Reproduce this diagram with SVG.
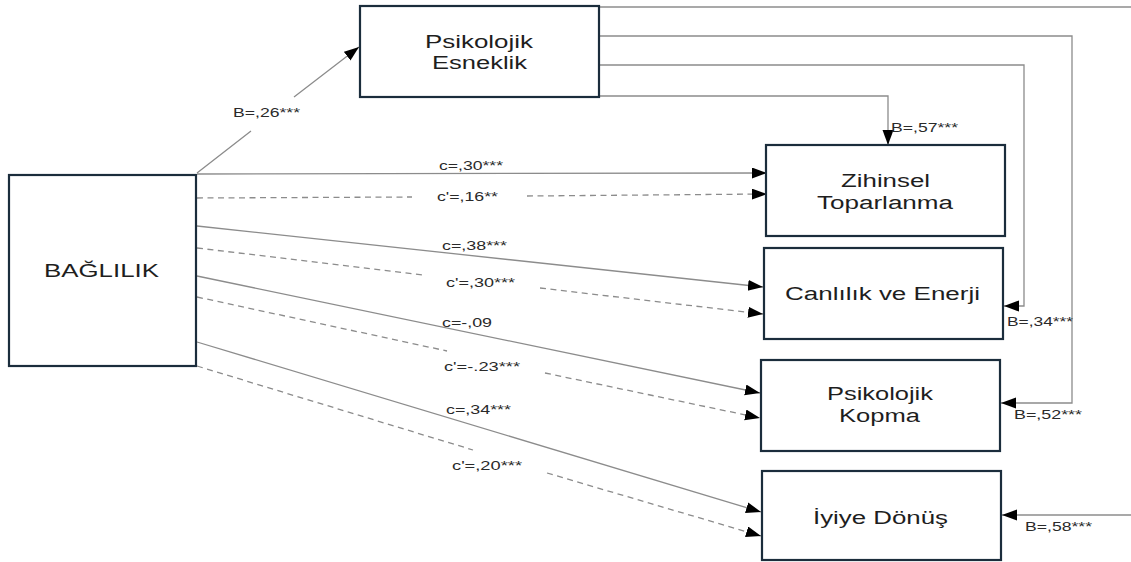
<svg xmlns="http://www.w3.org/2000/svg" width="1131" height="562" viewBox="0 0 1131 562">
<defs>
<marker id="arr" markerUnits="userSpaceOnUse" markerWidth="16" markerHeight="12" refX="15" refY="5.5" orient="auto">
<path d="M0,0 L15,5.5 L0,11 z" fill="#000"/>
</marker>
<style>
.box{fill:#fff;stroke:#1b2d3c;stroke-width:2.2}
.nl{font-family:"Liberation Sans",Arial,sans-serif;font-size:18px;fill:#1e1e1e}
.el{font-family:"Liberation Sans",Arial,sans-serif;font-size:13.5px;fill:#2a2a2a}
.c{fill:none;stroke:#8c8c8c;stroke-width:1.3}
.d{stroke-dasharray:6,4.5}
.m{marker-end:url(#arr)}
</style>
</defs>
<rect width="1131" height="562" fill="#fff"/>
<g id="connectors">
<path class="c m" d="M197,173 L251,131 M294,97 L359,47"/>
<path class="c" d="M599,7 H1131"/>
<path class="c m" d="M599,36 H1072 V403 H1001"/>
<path class="c m" d="M599,65 H1024 V306 H1004"/>
<path class="c m" d="M599,96 H888 V145"/>
<path class="c m" d="M1131,515 H1002"/>
<path class="c m" d="M197,174 L767,173"/>
<path class="c d m" d="M197,198 L412,197 M527,196 L767,194"/>
<path class="c m" d="M197,226 L763,287"/>
<path class="c d m" d="M197,248 L423,275 M540,288 L763,314"/>
<path class="c m" d="M197,276 L760,393"/>
<path class="c d m" d="M197,297 L447,351 M545,373 L760,418"/>
<path class="c m" d="M197,342 L761,512"/>
<path class="c d m" d="M197,366 L473,450 M547,473 L761,536"/>
<text class="el" x="233" y="117" textLength="67" lengthAdjust="spacingAndGlyphs">B=,26***</text>
<text class="el" x="439" y="170" textLength="64" lengthAdjust="spacingAndGlyphs">c=,30***</text>
<text class="el" x="437" y="201" textLength="61" lengthAdjust="spacingAndGlyphs">c'=,16**</text>
<text class="el" x="442" y="250" textLength="65" lengthAdjust="spacingAndGlyphs">c=,38***</text>
<text class="el" x="446" y="287" textLength="69" lengthAdjust="spacingAndGlyphs">c'=,30***</text>
<text class="el" x="442" y="327" textLength="50" lengthAdjust="spacingAndGlyphs">c=-,09</text>
<text class="el" x="444" y="371" textLength="76" lengthAdjust="spacingAndGlyphs">c'=-.23***</text>
<text class="el" x="446" y="414" textLength="65" lengthAdjust="spacingAndGlyphs">c=,34***</text>
<text class="el" x="452" y="470" textLength="70" lengthAdjust="spacingAndGlyphs">c'=,20***</text>
<text class="el" x="891" y="132" textLength="67" lengthAdjust="spacingAndGlyphs">B=,57***</text>
<text class="el" x="1007" y="326" textLength="66" lengthAdjust="spacingAndGlyphs">B=,34***</text>
<text class="el" x="1014" y="419" textLength="68" lengthAdjust="spacingAndGlyphs">B=,52***</text>
<text class="el" x="1025" y="531" textLength="67" lengthAdjust="spacingAndGlyphs">B=,58***</text>
</g>
<g id="baglilik">
<rect class="box" x="9" y="175" width="187" height="191"/>
<text class="nl" x="44" y="277" textLength="115" lengthAdjust="spacingAndGlyphs">BAĞLILIK</text>
</g>
<g id="esneklik">
<rect class="box" x="360" y="6" width="239" height="91"/>
<text class="nl" x="425" y="48" textLength="108" lengthAdjust="spacingAndGlyphs">Psikolojik</text>
<text class="nl" x="432" y="69" textLength="95" lengthAdjust="spacingAndGlyphs">Esneklik</text>
</g>
<g id="zihinsel">
<rect class="box" x="766" y="145" width="239" height="91"/>
<text class="nl" x="841" y="187" textLength="89" lengthAdjust="spacingAndGlyphs">Zihinsel</text>
<text class="nl" x="817" y="209" textLength="136" lengthAdjust="spacingAndGlyphs">Toparlanma</text>
</g>
<g id="canlilik">
<rect class="box" x="764" y="248" width="239" height="91"/>
<text class="nl" x="785" y="300" textLength="195" lengthAdjust="spacingAndGlyphs">Canlılık ve Enerji</text>
</g>
<g id="kopma">
<rect class="box" x="761" y="360" width="239" height="91"/>
<text class="nl" x="827" y="400" textLength="106" lengthAdjust="spacingAndGlyphs">Psikolojik</text>
<text class="nl" x="839" y="422" textLength="81" lengthAdjust="spacingAndGlyphs">Kopma</text>
</g>
<g id="iyiye">
<rect class="box" x="762" y="471" width="239" height="89"/>
<text class="nl" x="813" y="524" textLength="135" lengthAdjust="spacingAndGlyphs">İyiye Dönüş</text>
</g>
</svg>
